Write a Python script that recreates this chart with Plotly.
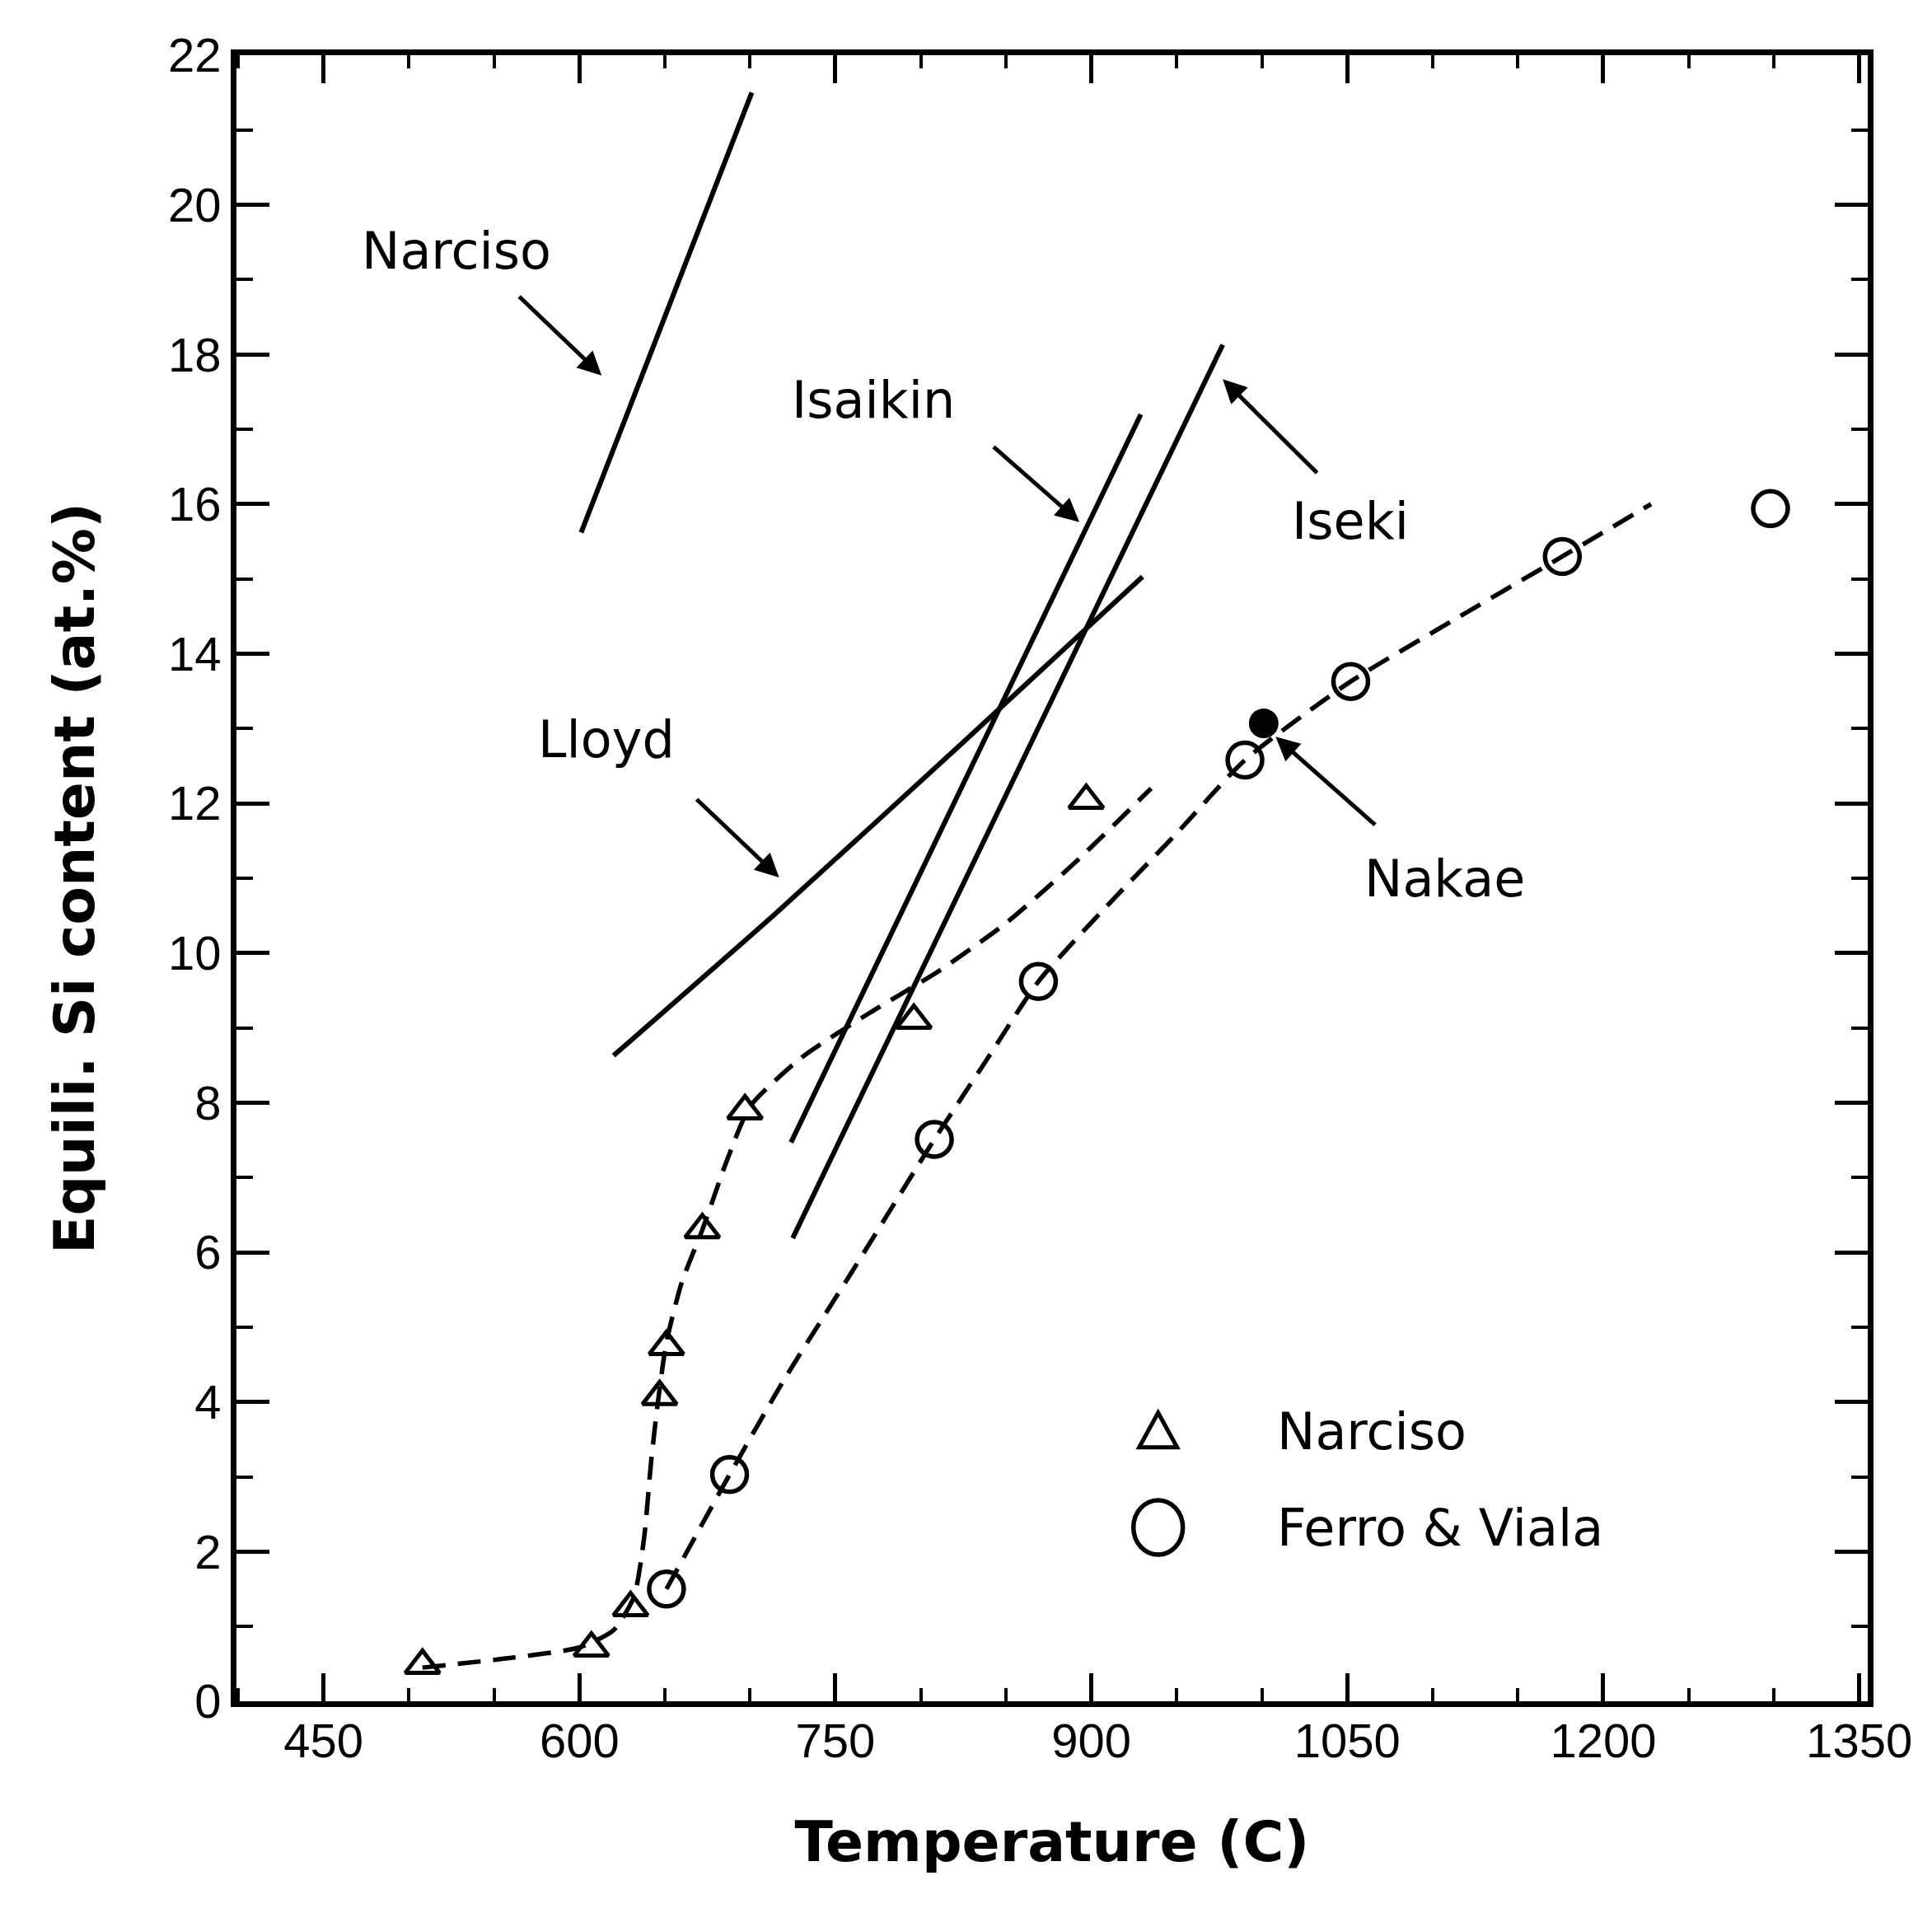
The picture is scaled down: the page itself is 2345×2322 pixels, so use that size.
import plotly.graph_objects as go

# ---------------- data ----------------
narciso_T = [508, 607, 630, 647, 651, 672, 697, 796, 897]
narciso_si = [0.48, 0.71, 1.25, 4.07, 4.74, 6.30, 7.89, 9.10, 12.04]

# dashed guide curve through the Narciso points
narciso_fit_T = [508, 560, 600, 620, 632, 638, 642, 646, 651, 660, 672, 686, 700, 730, 770, 810, 850, 890, 935]
narciso_fit_si = [0.45, 0.58, 0.72, 0.95, 1.40, 2.20, 3.20, 4.00, 4.80, 5.60, 6.30, 7.20, 7.95, 8.60, 9.20, 9.75, 10.40, 11.20, 12.20]

ferro_T = [651, 688, 808, 869, 990, 1052, 1176, 1298]
ferro_si = [1.50, 3.03, 7.51, 9.62, 12.58, 13.63, 15.30, 15.94]

ferro_fit_T = [651, 688, 720, 760, 808, 838, 869, 910, 950, 990, 1052, 1110, 1176, 1228]
ferro_fit_si = [1.50, 3.03, 4.30, 5.75, 7.51, 8.55, 9.62, 10.65, 11.60, 12.58, 13.63, 14.42, 15.30, 16.00]

nakae_T = [1001]
nakae_si = [13.07]

narciso_line_T = [601, 701]
narciso_line_si = [15.62, 21.50]

isaikin_T = [724, 929]
isaikin_si = [7.47, 17.20]

iseki_T = [725, 977]
iseki_si = [6.19, 18.13]

lloyd_T = [620, 715, 825, 930]
lloyd_si = [8.63, 10.53, 12.82, 15.03]

# labels: (text, x, y) and arrows: (tail x, tail y, head x, head y)
label_text = ["Narciso", "Isaikin", "Iseki", "Lloyd", "Nakae"]
label_T = [528, 772, 1052, 616, 1107]
label_si = [19.39, 17.39, 15.77, 12.86, 11.00]
arrow_tail_T = [564, 842, 1033, 668, 1067]
arrow_tail_si = [18.79, 16.78, 16.40, 12.07, 11.70]
arrow_head_T = [613, 893, 977, 717, 1008]
arrow_head_si = [17.72, 15.76, 17.67, 11.01, 12.89]

legend_names = ["Narciso", "Ferro & Viala"]

x_ticks = [450, 600, 750, 900, 1050, 1200, 1350]
y_ticks = [0, 2, 4, 6, 8, 10, 12, 14, 16, 18, 20, 22]

# ---------------- styling ----------------
W, H = 2345, 2322
ML, MR, MT, MB = 287, 78, 67, 257
BLACK = "black"
TICK_FONT = dict(family="Liberation Sans, Arial", size=58, color=BLACK)
LABEL_FONT = dict(family="DejaVu Sans, Liberation Sans, Arial", size=62, color=BLACK)
TITLE_FONT = dict(family="DejaVu Sans, Liberation Sans, Arial", size=68, color=BLACK)
DASH = "28px,15px"

fig = go.Figure()

# dashed guide curves
fig.add_trace(go.Scatter(x=narciso_fit_T, y=narciso_fit_si, mode="lines",
                         line=dict(color=BLACK, width=5.5, dash=DASH, shape="spline", smoothing=0.6),
                         showlegend=False, hoverinfo="skip"))
fig.add_trace(go.Scatter(x=ferro_fit_T, y=ferro_fit_si, mode="lines",
                         line=dict(color=BLACK, width=5.5, dash=DASH, shape="spline", smoothing=0.6),
                         showlegend=False, hoverinfo="skip"))

# solid literature lines
for xs, ys in [(narciso_line_T, narciso_line_si), (isaikin_T, isaikin_si),
               (iseki_T, iseki_si), (lloyd_T, lloyd_si)]:
    fig.add_trace(go.Scatter(x=xs, y=ys, mode="lines",
                             line=dict(color=BLACK, width=6, shape="spline", smoothing=0.5),
                             showlegend=False, hoverinfo="skip"))

# data points
fig.add_trace(go.Scatter(x=narciso_T, y=narciso_si, mode="markers", name=legend_names[0],
                         marker=dict(symbol="triangle-up-open", size=36, color=BLACK,
                                     line=dict(width=5, color=BLACK)),
                         showlegend=False))
fig.add_trace(go.Scatter(x=ferro_T, y=ferro_si, mode="markers", name=legend_names[1],
                         marker=dict(symbol="circle-open", size=42, color=BLACK,
                                     line=dict(width=5.5, color=BLACK)),
                         showlegend=False))
fig.add_trace(go.Scatter(x=nakae_T, y=nakae_si, mode="markers", name="Nakae",
                         marker=dict(symbol="circle", size=36, color=BLACK),
                         showlegend=False))

# text labels and arrows
annotations = []
for t, x, y in zip(label_text, label_T, label_si):
    annotations.append(dict(x=x, y=y, xref="x", yref="y", text=t, showarrow=False,
                            font=LABEL_FONT, xanchor="center", yanchor="middle"))
for tx, ty, hx, hy in zip(arrow_tail_T, arrow_tail_si, arrow_head_T, arrow_head_si):
    annotations.append(dict(x=hx, y=hy, ax=tx, ay=ty, xref="x", yref="y", axref="x", ayref="y",
                            text="", showarrow=True, arrowhead=2, arrowsize=1.15,
                            arrowwidth=5, arrowcolor=BLACK))

# legend (drawn in paper coordinates)
LEG_SYM_X = 0.5650
LEG_TEXT_X = 0.6370
LEG_ROW_Y = [0.1637, 0.1056]
annotations.append(dict(x=LEG_TEXT_X, y=LEG_ROW_Y[0], xref="paper", yref="paper", text=legend_names[0],
                        showarrow=False, font=LABEL_FONT, xanchor="left", yanchor="middle"))
annotations.append(dict(x=LEG_TEXT_X, y=LEG_ROW_Y[1], xref="paper", yref="paper", text=legend_names[1],
                        showarrow=False, font=LABEL_FONT, xanchor="left", yanchor="middle"))

pw = W - ML - MR
ph = H - MT - MB
tri_w = 46 / pw
tri_h = 42 / ph
cx, cy = LEG_SYM_X, LEG_ROW_Y[0]
shapes = [
    dict(type="path", xref="paper", yref="paper",
         path=f"M {cx - tri_w/2} {cy - tri_h*0.45} L {cx + tri_w/2} {cy - tri_h*0.45} L {cx} {cy + tri_h*0.55} Z",
         line=dict(color=BLACK, width=5), fillcolor="rgba(0,0,0,0)"),
    dict(type="circle", xref="paper", yref="paper",
         x0=LEG_SYM_X - 30 / pw, x1=LEG_SYM_X + 30 / pw,
         y0=LEG_ROW_Y[1] - 33 / ph, y1=LEG_ROW_Y[1] + 33 / ph,
         line=dict(color=BLACK, width=5.5), fillcolor="rgba(0,0,0,0)"),
]

axis_common = dict(showline=True, linecolor=BLACK, linewidth=7, mirror="allticks",
                   ticks="inside", tickcolor=BLACK, tickwidth=5,
                   showgrid=False, zeroline=False, tickfont=TICK_FONT)

fig.update_layout(
    width=W, height=H,
    margin=dict(l=ML, r=MR, t=MT, b=MB),
    paper_bgcolor="white", plot_bgcolor="white",
    showlegend=False,
    annotations=annotations,
    shapes=shapes,
    xaxis=dict(range=[399, 1355], tickvals=x_ticks, ticktext=[str(v) for v in x_ticks],
               ticklen=34,
               minor=dict(dtick=50, tick0=0, ticks="inside", ticklen=16, tickwidth=4, tickcolor=BLACK),
               title=dict(text="<b>Temperature (C)</b>", font=TITLE_FONT, standoff=70),
               ticklabelstandoff=-9,
               **axis_common),
    yaxis=dict(range=[0, 22], tickvals=y_ticks, ticktext=[str(v) for v in y_ticks],
               ticklen=40,
               minor=dict(dtick=1, tick0=0, ticks="inside", ticklen=20, tickwidth=4, tickcolor=BLACK),
               title=dict(text="<b>Equili. Si content (at.%)</b>", font=TITLE_FONT, standoff=70),
               ticklabelstandoff=0,
               **axis_common),
)

fig.write_html("out.html")
